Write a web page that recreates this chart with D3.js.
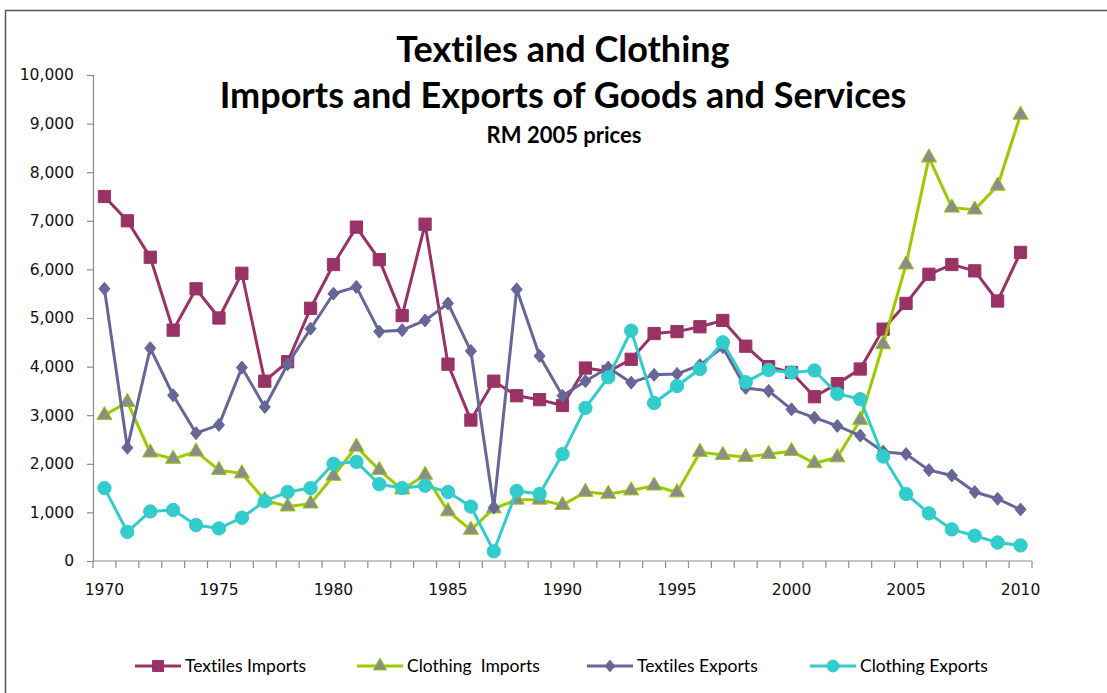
<!DOCTYPE html>
<html>
<head>
<meta charset="utf-8">
<script src="https://cdn.jsdelivr.net/npm/d3@7"></script>
<style>
  html, body { margin: 0; padding: 0; background: #fff; }
  svg { display: block; }
  text { font-variant-ligatures: none; }
</style>
</head>
<body>
<svg id="chart" width="1107" height="693"></svg>
<script>
// Years on the category axis
const years = d3.range(1970, 2011);
const yTicks = [0, 1000, 2000, 3000, 4000, 5000, 6000, 7000, 8000, 9000, 10000];
const xTickLabels = [1970, 1975, 1980, 1985, 1990, 1995, 2000, 2005, 2010];

// RM million, 2005 prices
const textilesImports = [7500, 7000, 6250, 4750, 5600, 5000, 5920, 3700, 4100, 5200,
  6100, 6870, 6200, 5050, 6930, 4050, 2900, 3700, 3400, 3320,
  3200, 3970, 3900, 4150, 4680, 4720, 4820, 4950, 4420, 4000,
  3880, 3380, 3650, 3950, 4770, 5300, 5900, 6100, 5970, 5350, 6350];
const clothingImports = [3000, 3270, 2230, 2100, 2250, 1870, 1800, 1250, 1120, 1180,
  1750, 2350, 1870, 1470, 1770, 1020, 640, 1080, 1260, 1260,
  1150, 1420, 1380, 1450, 1550, 1410, 2240, 2180, 2140, 2200,
  2260, 2010, 2130, 2900, 4460, 6100, 8300, 7270, 7230, 7720, 9180];
const textilesExports = [5600, 2330, 4380, 3410, 2630, 2800, 3980, 3170, 4050, 4780,
  5500, 5640, 4720, 4750, 4950, 5300, 4320, 1100, 5590, 4220,
  3400, 3700, 3980, 3670, 3830, 3850, 4030, 4400, 3560, 3500,
  3120, 2950, 2780, 2580, 2250, 2200, 1870, 1760, 1420, 1280, 1060];
const clothingExports = [1500, 600, 1020, 1050, 740, 670, 890, 1230, 1420, 1500,
  2000, 2040, 1580, 1500, 1550, 1420, 1120, 200, 1440, 1380,
  2200, 3150, 3780, 4740, 3250, 3600, 3950, 4500, 3680, 3930,
  3880, 3920, 3440, 3330, 2150, 1380, 980, 650, 520, 380, 320];

const seriesNames = ["Textiles Imports", "Clothing  Imports", "Textiles Exports", "Clothing Exports"];
const seriesValues = [textilesImports, clothingImports, textilesExports, clothingExports];

// Diamond a little wider than d3's built-in one
const wideDiamond = {
  draw(ctx, size) {
    const h = Math.sqrt(size) * 0.62, w = h * 0.85;
    ctx.moveTo(0, -h); ctx.lineTo(w, 0); ctx.lineTo(0, h); ctx.lineTo(-w, 0); ctx.closePath();
  }
};

const styles = [
  { line: "#993366", fill: "#993366", stroke: "#993366", symbol: d3.symbolSquare, size: 150 },
  { line: "#99CC00", fill: "#8c8c8c", stroke: "#99CC00", symbol: d3.symbolTriangle, size: 100 },
  { line: "#666699", fill: "#666699", stroke: "#666699", symbol: wideDiamond, size: 110 },
  { line: "#33CCCC", fill: "#33CCCC", stroke: "#33CCCC", symbol: d3.symbolCircle, size: 140 }
];

const svg = d3.select("#chart");

// Outer chart frame
svg.append("path")
  .attr("d", "M5.5,693 L5.5,10.5 L1107,10.5")
  .attr("fill", "none").attr("stroke", "#555").attr("stroke-width", 1.5);

const plot = { left: 93, right: 1032, top: 75, bottom: 561 };

const x = d3.scaleBand().domain(years).range([plot.left, plot.right]).paddingInner(0).paddingOuter(0);
const y = d3.scaleLinear().domain([0, 10000]).range([plot.bottom, plot.top]);
const cx = d => x(d) + x.bandwidth() / 2;

// Y axis
const yAxis = svg.append("g").attr("transform", `translate(${plot.left},0)`)
  .call(d3.axisLeft(y).tickValues(yTicks).tickFormat(d3.format(",")).tickSize(6).tickPadding(13));
yAxis.select(".domain").attr("stroke", "#8c8c8c").attr("stroke-width", 1.2);
yAxis.selectAll(".tick line").attr("stroke", "#8c8c8c").attr("stroke-width", 1.2);
yAxis.selectAll(".tick text")
  .attr("font-family", "'DejaVu Sans', Verdana, sans-serif")
  .attr("font-size", 15.5).attr("fill", "#111");

// X axis: ticks between categories
const xg = svg.append("g").attr("transform", `translate(0,${plot.bottom})`);
xg.append("line").attr("x1", plot.left).attr("x2", plot.right)
  .attr("stroke", "#8c8c8c").attr("stroke-width", 1.2);
const edges = years.map(d => x(d)).concat([plot.right]);
xg.selectAll("line.tk").data(edges).join("line").attr("class", "tk")
  .attr("x1", d => d).attr("x2", d => d).attr("y1", 0).attr("y2", 7)
  .attr("stroke", "#8c8c8c").attr("stroke-width", 1.2);
xg.selectAll("text").data(xTickLabels).join("text")
  .attr("x", d => cx(d)).attr("y", 34)
  .attr("text-anchor", "middle")
  .attr("font-family", "'DejaVu Sans', Verdana, sans-serif")
  .attr("font-size", 15.5).attr("fill", "#111")
  .text(d => d);

// Lines and markers
const line = d3.line().x((d, i) => cx(years[i])).y(d => y(d));
seriesValues.forEach((vals, s) => {
  const st = styles[s];
  const g = svg.append("g");
  g.append("path").datum(vals).attr("d", line)
    .attr("fill", "none").attr("stroke", st.line).attr("stroke-width", 3)
    .attr("stroke-linejoin", "round");
  g.selectAll("path.m").data(vals).join("path").attr("class", "m")
    .attr("d", d3.symbol().type(st.symbol).size(st.size))
    .attr("transform", (d, i) => `translate(${cx(years[i])},${y(d)})`)
    .attr("fill", st.fill).attr("stroke", st.stroke).attr("stroke-width", 1);
});

// Titles
const title = svg.append("g").attr("font-family", "Lato, 'Open Sans', sans-serif")
  .attr("font-weight", "bold").attr("text-anchor", "middle").attr("fill", "#000");
title.append("text").attr("x", 563).attr("y", 62).attr("font-size", 36).text("Textiles and Clothing");
title.append("text").attr("x", 563).attr("y", 108).attr("font-size", 36).text("Imports and Exports of Goods and Services");
title.append("text").attr("x", 564).attr("y", 143).attr("font-size", 22).text("RM 2005 prices");

// Legend
const legendX = [135, 357, 587, 810];
const lg = svg.append("g");
seriesNames.forEach((name, s) => {
  const st = styles[s];
  const g = lg.append("g").attr("transform", `translate(${legendX[s]},666)`);
  g.append("line").attr("x1", 0).attr("x2", 46).attr("stroke", st.line).attr("stroke-width", 3);
  g.append("path").attr("d", d3.symbol().type(st.symbol).size(st.size * 0.8))
    .attr("transform", "translate(23,0)")
    .attr("fill", st.fill).attr("stroke", st.stroke).attr("stroke-width", 1);
  g.append("text").attr("x", 50).attr("y", 6)
    .attr("font-family", "Lato, 'Open Sans', sans-serif")
    .attr("font-size", 17.5).attr("fill", "#000")
    .attr("xml:space", "preserve")
    .text(name);
});
</script>
</body>
</html>
